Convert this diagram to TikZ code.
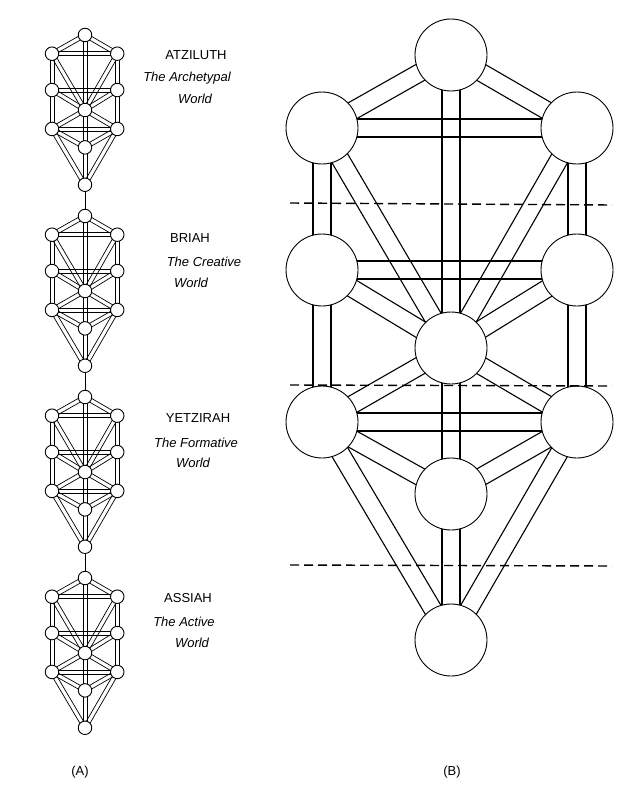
\documentclass[tikz,border=0pt]{standalone}
\usepackage{fontspec}
\setmainfont{Liberation Sans}
\usetikzlibrary{calc}
\begin{document}
\begin{tikzpicture}[x=1pt,y=-1pt,
  sef/.style={circle,draw,line width=0.9pt,fill=white,inner sep=0pt},
  lbl/.style={font=\fontsize{13}{15}\selectfont},
  sub/.style={font=\fontsize{13}{15}\selectfont\itshape},
  world/.style={dashed,line width=1.4pt,dash pattern=on 9pt off 5pt}]
\useasboundingbox (0,0) rectangle (640,808);
\newcommand\mytree[7]{%
  % #1 prefix, #2 x, #3 y of top, #4 scale, #5 diameter, #6 half width, #7 line width
  \foreach \n/\a/\b in {1/0/0,2/126/73,3/-129/73,4/126/215,5/-129/215,6/0/293,7/126/367,8/-129/367,9/0/439,10/0/585}
    \coordinate (#1c\n) at ({#2+#4*\a},{#3+#4*\b});
  \foreach \pp/\qq in {1/2,1/3,1/6,2/3,2/4,2/6,3/5,3/6,4/5,4/6,4/7,5/6,5/8,6/7,6/8,6/9,7/8,7/9,7/10,8/9,8/10,9/10}{
    \draw[line width=#7] ($(#1c\pp)!#6!90:(#1c\qq)$) -- ($(#1c\qq)!#6!-90:(#1c\pp)$);
    \draw[line width=#7] ($(#1c\pp)!#6!-90:(#1c\qq)$) -- ($(#1c\qq)!#6!90:(#1c\pp)$);}
  \foreach \n in {1,...,10}
    \node[sef,minimum size=#5] (#1\n) at (#1c\n) {};
}
% big tree
\mytree{B}{451}{55}{1}{72pt}{9pt}{1.1pt}
% small trees
\foreach \i/\pf in {0/a,1/b,2/c,3/d}{
  \mytree{\pf}{85}{35+181*\i}{0.256}{13.5pt}{2.1pt}{0.7pt}
}
\draw[line width=0.6pt] (a10) -- (b1);
\draw[line width=0.6pt] (b10) -- (c1);
\draw[line width=0.6pt] (c10) -- (d1);
% dashed dividers
\draw[world] (290,203) -- (612,205);
\draw[world] (290,385) -- (612,386);
\draw[world] (290,565) -- (612,566);
% labels
\node[lbl] (t1) at (196,55) {ATZILUTH};
\node[sub] (s1) at (187,78) {The Archetypal};
\node[sub] (w1) at (195,99) {World};
\node[lbl] (t2) at (190,238) {BRIAH};
\node[sub] (s2) at (204,262) {The Creative};
\node[sub] (w2) at (191,283) {World};
\node[lbl] (t3) at (198,418) {YETZIRAH};
\node[sub] (s3) at (196,443) {The Formative};
\node[sub] (w3) at (193,463) {World};
\node[lbl] (t4) at (188,598) {ASSIAH};
\node[sub] (s4) at (184,622) {The Active};
\node[sub] (w4) at (192,643) {World};
\node[lbl] (A) at (80,772) {(A)};
\node[lbl] (B) at (452,772) {(B)};
\end{tikzpicture}
\end{document}
